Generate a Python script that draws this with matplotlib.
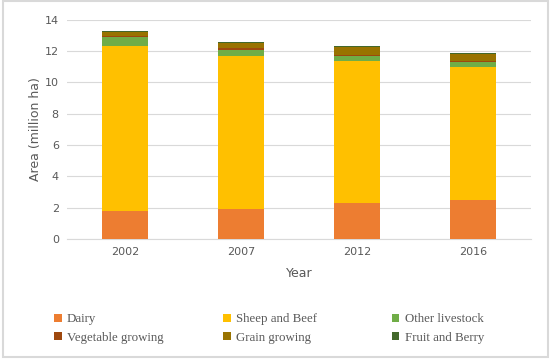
import matplotlib.pyplot as plt
from matplotlib.patches import Rectangle

years = ['2002', '2007', '2012', '2016']
dairy = [1.80, 1.90, 2.30, 2.50]
sheep_beef = [10.56, 9.80, 9.10, 8.50]
other_livestock = [0.54, 0.38, 0.30, 0.28]
vegetable = [0.07, 0.10, 0.08, 0.07]
grain = [0.25, 0.35, 0.47, 0.49]
fruit = [0.08, 0.07, 0.05, 0.06]

series = [
    ('Dairy', dairy, '#ED7D31'),
    ('Sheep and Beef', sheep_beef, '#FFC000'),
    ('Other livestock', other_livestock, '#70AD47'),
    ('Vegetable growing', vegetable, '#9E480E'),
    ('Grain growing', grain, '#997300'),
    ('Fruit and Berry', fruit, '#43682B'),
]

fig = plt.figure(figsize=(5.5, 3.61), dpi=100)
ax = fig.add_axes([0.122, 0.338, 0.843, 0.607])

bottom = [0.0] * len(years)
handles = {}
for name, vals, col in series:
    b = ax.bar(years, vals, bottom=bottom, width=0.4, color=col, label=name, zorder=3)
    handles[name] = b
    bottom = [x + v for x, v in zip(bottom, vals)]

ax.set_ylim(0, 14)
ax.set_yticks(range(0, 15, 2))
ax.set_xlim(-0.5, 3.5)
ax.grid(axis='y', color='#d9d9d9', linewidth=0.8, zorder=0)
for side in ['top', 'right', 'left']:
    ax.spines[side].set_visible(False)
ax.spines['bottom'].set_color('#d9d9d9')
ax.tick_params(axis='both', length=0, labelsize=8, labelcolor='#595959', pad=6)
ax.set_xlabel('Year', fontsize=9, color='#595959', labelpad=7)
ax.set_ylabel('Area (million ha)', fontsize=9, color='#595959', labelpad=2)

# legend: three columns placed like the original
columns = [
    (0.098, ['Dairy', 'Vegetable growing']),
    (0.405, ['Sheep and Beef', 'Grain growing']),
    (0.712, ['Other livestock', 'Fruit and Berry']),
]
for x, names in columns:
    fig.legend([handles[n] for n in names], names, ncol=1,
               loc='upper left', bbox_to_anchor=(x, 0.132),
               frameon=False, prop={'family': 'Liberation Serif', 'size': 9.3},
               labelcolor='#595959', handlelength=0.6, handleheight=0.6,
               handletextpad=0.4, labelspacing=0.5,
               borderpad=0, borderaxespad=0)

fig.patches.append(Rectangle((0.006, 0.012), 0.99, 0.985, transform=fig.transFigure,
                             fill=False, edgecolor='#d9d9d9', linewidth=1.5))

fig.savefig('out.png', dpi=100)
